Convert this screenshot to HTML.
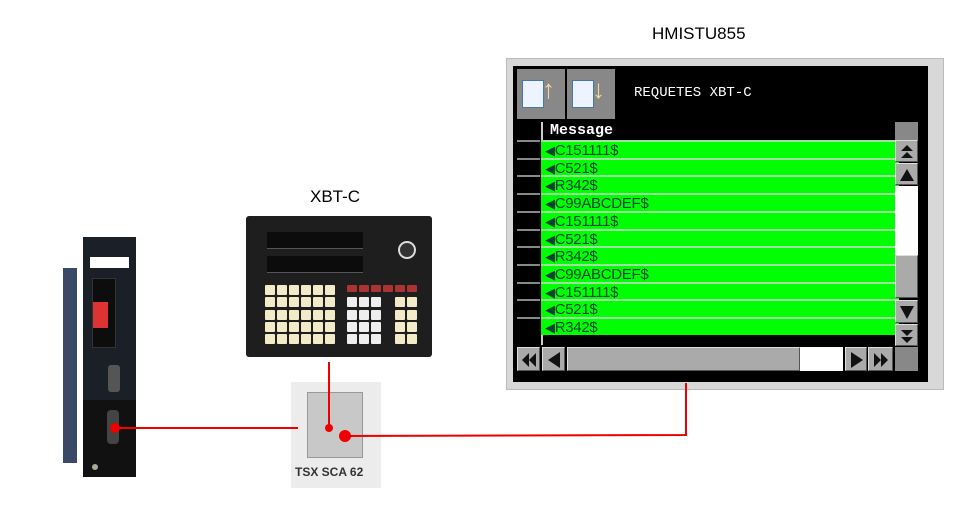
<!DOCTYPE html>
<html><head><style>
body{margin:0;width:960px;height:508px;background:#fff;position:relative;overflow:hidden;font-family:"Liberation Sans",sans-serif}
.a{position:absolute}
.row{position:absolute;left:541px;width:354px;height:16px;background:#00ff00;border-top:2px solid #9fdf9f;font-family:"Liberation Sans",sans-serif;font-size:15px;line-height:17px;color:#043;padding-left:4px;box-sizing:content-box;letter-spacing:-0.3px}
.lc{position:absolute;left:517px;width:23px;height:16px;background:#000;border-top:2px solid #888}
.btn{position:absolute;background:#aaa;border:1px solid #ddd;border-right-color:#555;border-bottom-color:#555;box-sizing:border-box}
.btn svg{position:absolute;left:0;top:0}
.key{position:absolute;width:10px;height:10px;background:#f3ebc8;border-radius:1px}
</style></head><body>
<div class="a" style="left:652px;top:24px;font-size:17px">HMISTU855</div>
<div class="a" style="left:310px;top:187px;font-size:17px">XBT-C</div>

<!-- HMI -->
<div class="a" style="left:506px;top:58px;width:438px;height:332px;background:#d8d8d8;border:1px solid #bbb;box-sizing:border-box"></div>
<div class="a" style="left:513px;top:66px;width:415px;height:316px;background:#000"></div>
<div class="a" style="left:517px;top:69px;width:48px;height:50px;background:#888"></div>
<div class="a" style="left:567px;top:69px;width:48px;height:50px;background:#888"></div>
<div class="a" style="left:522px;top:80px;width:20px;height:26px;background:#eef4ff;border:1px solid #4477aa"></div>
<div class="a" style="left:542px;top:74px;color:#f0d8a0;font-size:26px;font-weight:bold">↑</div>
<div class="a" style="left:572px;top:80px;width:20px;height:26px;background:#eef4ff;border:1px solid #4477aa"></div>
<div class="a" style="left:592px;top:74px;color:#f0d8a0;font-size:26px;font-weight:bold">↓</div>
<div class="a" style="left:634px;top:85px;color:#fff;font-family:'Liberation Mono',monospace;font-size:14px">REQUETES XBT-C</div>
<div class="a" style="left:541px;top:122px;width:354px;height:18px;background:#000;color:#fff;font-family:'Liberation Mono',monospace;font-weight:bold;font-size:15px;line-height:17px;padding-left:7px;box-sizing:border-box;border-left:2px solid #ccc">Message</div>
<div class="a" style="left:517px;top:122px;width:23px;height:18px;background:#000"></div>
<div id="rows"></div>
<script>
var t=["C151111$","C521$","R342$","C99ABCDEF$","C151111$","C521$","R342$","C99ABCDEF$","C151111$","C521$","R342$"],h="";
for(var i=0;i<11;i++){var y=140+i*17.7;h+='<div class="lc" style="top:'+y+'px"></div><div class="row" style="top:'+y+'px"><span style="font-size:13px">◀</span>'+t[i]+'</div>';}
document.getElementById("rows").innerHTML=h;
</script>
<div class="a" style="left:541px;top:335px;width:354px;height:10px;background:#000;border-left:2px solid #ccc"></div>
<!-- vscroll -->
<div class="a" style="left:895px;top:122px;width:23px;height:18px;background:#888"></div>
<div class="btn" style="left:895px;top:140px;width:23px;height:22px"><svg width="23" height="22"><path d="M5 10 L11 4 L17 10Z M5 17 L11 11 L17 17Z" fill="#111"/></svg></div>
<div class="btn" style="left:895px;top:163px;width:23px;height:22px"><svg width="23" height="22"><path d="M4 17 L11 5 L18 17Z" fill="#111"/></svg></div>
<div class="a" style="left:895px;top:186px;width:23px;height:69px;background:#fff"></div>
<div class="btn" style="left:895px;top:255px;width:23px;height:43px"></div>
<div class="btn" style="left:895px;top:300px;width:23px;height:23px"><svg width="23" height="23"><path d="M4 5 L11 18 L18 5Z" fill="#111"/></svg></div>
<div class="btn" style="left:895px;top:324px;width:23px;height:22px"><svg width="23" height="22"><path d="M5 5 L11 11 L17 5Z M5 12 L11 18 L17 12Z" fill="#111"/></svg></div>
<!-- hscroll -->
<div class="btn" style="left:517px;top:347px;width:23px;height:24px"><svg width="23" height="24"><path d="M11 5 L4 12 L11 19Z M18 5 L11 12 L18 19Z" fill="#111"/></svg></div>
<div class="btn" style="left:542px;top:347px;width:23px;height:24px"><svg width="23" height="24"><path d="M17 4 L5 12 L17 20Z" fill="#111"/></svg></div>
<div class="btn" style="left:567px;top:347px;width:233px;height:24px"></div>
<div class="a" style="left:800px;top:347px;width:43px;height:24px;background:#fff"></div>
<div class="btn" style="left:845px;top:347px;width:22px;height:24px"><svg width="22" height="24"><path d="M5 4 L17 12 L5 20Z" fill="#111"/></svg></div>
<div class="btn" style="left:868px;top:347px;width:25px;height:24px"><svg width="25" height="24"><path d="M5 5 L12 12 L5 19Z M12 5 L19 12 L12 19Z" fill="#111"/></svg></div>
<div class="a" style="left:895px;top:347px;width:23px;height:24px;background:#888"></div>

<!-- PLC -->
<div class="a" style="left:63px;top:268px;width:14px;height:195px;background:#3a4a66"></div>
<div class="a" style="left:83px;top:237px;width:53px;height:240px;background:#1b1f28"></div>
<div class="a" style="left:90px;top:257px;width:39px;height:11px;background:#fff"></div>
<div class="a" style="left:92px;top:278px;width:22px;height:68px;background:#0d0d0d;border:1px solid #333"></div>
<div class="a" style="left:93px;top:302px;width:15px;height:26px;background:#d33"></div>
<div class="a" style="left:108px;top:365px;width:12px;height:27px;background:#555;border-radius:3px"></div>
<div class="a" style="left:83px;top:400px;width:53px;height:77px;background:#111"></div>
<div class="a" style="left:107px;top:410px;width:12px;height:34px;background:#444;border-radius:4px"></div>
<div class="a" style="left:92px;top:464px;width:6px;height:6px;background:#aa9;border-radius:50%"></div>

<!-- XBT-C -->
<div class="a" style="left:246px;top:216px;width:186px;height:141px;background:#1e1e1e;border-radius:3px"></div>
<div class="a" style="left:267px;top:232px;width:96px;height:16px;background:#0c0c0c;border-bottom:1px solid #555"></div>
<div class="a" style="left:267px;top:256px;width:96px;height:16px;background:#0c0c0c;border-bottom:1px solid #555"></div>
<div class="a" style="left:398px;top:241px;width:14px;height:14px;border:2px solid #ddd;border-radius:50%;background:#333"></div>
<div id="kb"></div>
<script>
var k="";for(var r=0;r<5;r++)for(var c=0;c<6;c++)k+='<div class="key" style="left:'+(265+c*12)+'px;top:'+(285+r*12.3)+'px"></div>';
for(var c=0;c<6;c++)k+='<div class="key" style="left:'+(347+c*12)+'px;top:'+(285)+'px;background:#a33;height:7px"></div>';
for(var r=1;r<5;r++)for(var c=0;c<6;c++)if(c!=3)k+='<div class="key" style="left:'+(347+c*12)+'px;top:'+(285+r*12.3)+'px;background:'+(c<3?'#eee':'#f3ebc8')+'"></div>';
document.getElementById("kb").innerHTML=k;
</script>

<!-- TSX SCA 62 -->
<div class="a" style="left:291px;top:382px;width:90px;height:106px;background:#ececec"></div>
<div class="a" style="left:307px;top:392px;width:54px;height:64px;background:#c8c8c8;border:1px solid #999"></div>
<div class="a" style="left:295px;top:465px;font-size:12px;font-weight:bold;color:#333">TSX SCA 62</div>

<!-- wires -->
<svg class="a" style="left:0;top:0" width="960" height="508">
<g stroke="#e00" stroke-width="2" fill="none">
<line x1="115" y1="428" x2="298" y2="428"/>
<line x1="329" y1="362" x2="329" y2="426"/>
<polyline points="345,436 686,435 686,383"/>
</g>
<circle cx="115" cy="428" r="5" fill="#e00"/>
<circle cx="329" cy="428" r="4" fill="#e00"/>
<circle cx="345" cy="436" r="6" fill="#e00"/>
</svg>
</body></html>
